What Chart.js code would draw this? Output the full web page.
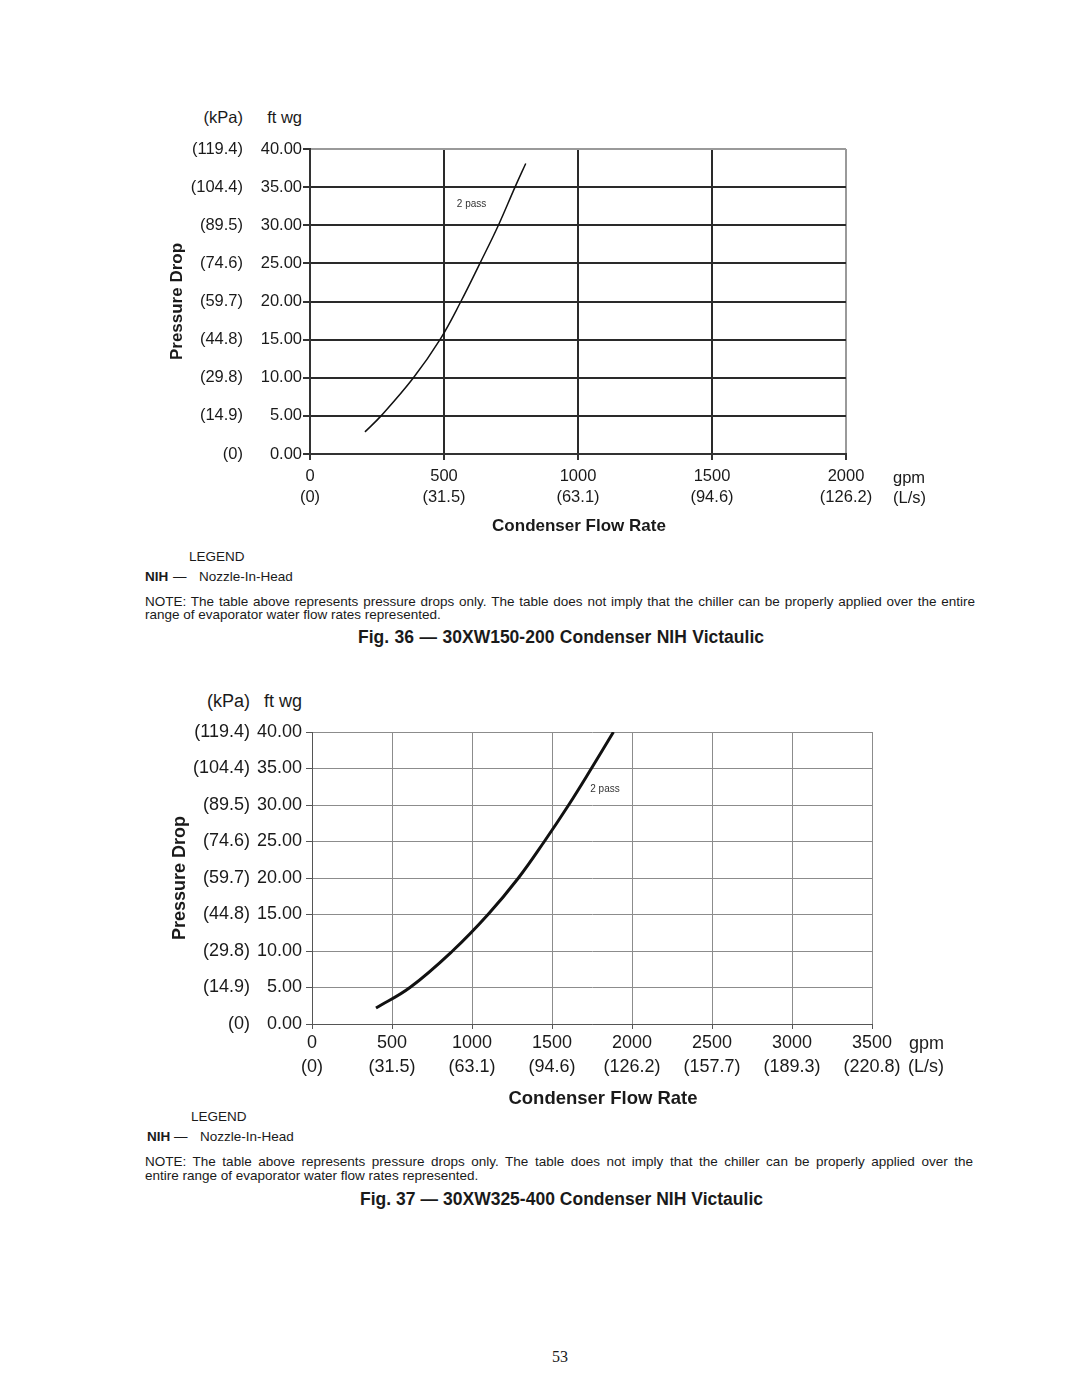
<!DOCTYPE html>
<html lang="en">
  <head>
    <meta charset="UTF-8" />
    <title>30XW Condenser NIH Victaulic</title>
    <style>
      body {
        margin: 0;
        background: #fff;
        font-family: "Liberation Sans", Arial, Helvetica, sans-serif;
        color: #1a1a1a;
      }
      .page {
        position: relative;
        width: 1080px;
        height: 1397px;
        overflow: hidden;
      }
      .page canvas {
        position: absolute;
        left: 0;
      }
      .t {
        position: absolute;
        white-space: nowrap;
        line-height: 20px;
      }
      .c {
        transform: translateX(-50%);
      }
      .b {
        font-weight: bold;
      }
      .s1 { font-size: 16.5px; }
      .s2 { font-size: 18px; }
      .small { font-size: 13.5px; }
      .pg {
        font-family: "Liberation Serif", "DejaVu Serif", serif;
        font-size: 16px;
      }
    </style>
  </head>
  <body>
    <div class="page">
      <!-- Fig. 36 -->
      <div class="t s1" style="right: 837px; top: 107px">(kPa)</div>
      <div class="t s1" style="right: 778px; top: 107px">ft wg</div>
      <canvas id="fig36" width="1080" height="450" style="top: 90px"></canvas>
      <div class="t s1" style="left: 893px; top: 467px">gpm</div>
      <div class="t s1" style="left: 893px; top: 487px">(L/s)</div>
      <div class="t b c" style="left: 579px; top: 516px; font-size: 17px">Condenser Flow Rate</div>
      <div class="t small" style="left: 189px; top: 547px">LEGEND</div>
      <div class="t small b" style="left: 145px; top: 567px">NIH</div>
      <div class="t small" style="left: 173px; top: 567px">—</div>
      <div class="t small" style="left: 199px; top: 567px">Nozzle-In-Head</div>
      <div class="t small" data-fit="830" style="left: 145px; top: 592px">NOTE: The table above represents pressure drops only. The table does not imply that the chiller can be properly applied over the entire</div>
      <div class="t small" style="left: 145px; top: 605px">range of evaporator water flow rates represented.</div>
      <div class="t b" data-fit="406" style="left: 358px; top: 627px; font-size: 17.5px">Fig. 36 — 30XW150-200 Condenser NIH Victaulic</div>

      <!-- Fig. 37 -->
      <div class="t s2" style="right: 830px; top: 691px">(kPa)</div>
      <div class="t s2" style="right: 778px; top: 691px">ft wg</div>
      <canvas id="fig37" width="1080" height="420" style="top: 680px"></canvas>
      <div class="t s2" style="right: 136px; top: 1033px">gpm</div>
      <div class="t s2" style="right: 136px; top: 1056px">(L/s)</div>
      <div class="t b c" style="left: 603px; top: 1088px; font-size: 18.5px">Condenser Flow Rate</div>
      <div class="t small" style="left: 191px; top: 1107px">LEGEND</div>
      <div class="t small b" style="left: 147px; top: 1127px">NIH</div>
      <div class="t small" style="left: 174px; top: 1127px">—</div>
      <div class="t small" style="left: 200px; top: 1127px">Nozzle-In-Head</div>
      <div class="t small" data-fit="828" style="left: 145px; top: 1152px">NOTE: The table above represents pressure drops only. The table does not imply that the chiller can be properly applied over the</div>
      <div class="t small" style="left: 145px; top: 1166px">entire range of evaporator water flow rates represented.</div>
      <div class="t b" data-fit="403" style="left: 360px; top: 1189px; font-size: 17.5px">Fig. 37 — 30XW325-400 Condenser NIH Victaulic</div>

      <div class="t pg c" style="left: 560px; top: 1347px">53</div>
    </div>

    <script src="https://cdn.jsdelivr.net/npm/chart.js"></script>
    <script>
      // pressure drop axis (ft wg) and its kPa equivalents
      const ftTicks = [0, 5, 10, 15, 20, 25, 30, 35, 40];
      const kpaLabels = ["(0)", "(14.9)", "(29.8)", "(44.8)", "(59.7)", "(74.6)", "(89.5)", "(104.4)", "(119.4)"];

      // flow axes (gpm) and L/s equivalents
      const fig36Gpm = [0, 500, 1000, 1500, 2000];
      const fig36Lps = ["(0)", "(31.5)", "(63.1)", "(94.6)", "(126.2)"];
      const fig37Gpm = [0, 500, 1000, 1500, 2000, 2500, 3000, 3500];
      const fig37Lps = ["(0)", "(31.5)", "(63.1)", "(94.6)", "(126.2)", "(157.7)", "(189.3)", "(220.8)"];

      // 2 pass curves
      const fig36Flow = [205, 265, 386, 485, 563, 634, 703, 765, 805];
      const fig36Drop = [2.9, 5, 10, 15, 20, 25, 30, 35, 38.1];
      const fig37Flow = [400, 612, 878, 1100, 1290, 1452, 1604, 1746, 1884];
      const fig37Drop = [2.2, 5, 10, 15, 20, 25, 30, 35, 40];

      const fig36Label = { text: "2 pass", flow: 603, drop: 32.8 };
      const fig37Label = { text: "2 pass", flow: 1831, drop: 32.2 };

      Chart.defaults.font.family = '"Liberation Sans", Arial, Helvetica, sans-serif';
      Chart.defaults.color = "#1a1a1a";

      const passLabel = {
        id: "passLabel",
        afterDatasetsDraw(chart, args, opts) {
          const { ctx, scales } = chart;
          ctx.save();
          ctx.font = '10px "Liberation Sans", Arial, sans-serif';
          ctx.fillStyle = "#333";
          ctx.textAlign = "center";
          ctx.textBaseline = "middle";
          ctx.fillText(opts.text, scales.x.getPixelForValue(opts.flow), scales.y.getPixelForValue(opts.drop));
          ctx.restore();
        },
      };

      function makeChart(id, s) {
        const edge = (max) => (ctx) => (ctx.tick && ctx.tick.value === max ? s.edgeColor : s.gridColor);
        return new Chart(document.getElementById(id), {
          type: "scatter",
          data: {
            datasets: [
              {
                data: s.flow.map((f, i) => ({ x: f, y: s.drop[i] })),
                showLine: true,
                borderColor: "#111",
                borderWidth: s.lineWidth,
                pointRadius: 0,
                tension: 0.4,
              },
            ],
          },
          options: {
            responsive: false,
            animation: false,
            devicePixelRatio: 1,
            layout: { padding: s.padding },
            plugins: {
              legend: { display: false },
              tooltip: { enabled: false },
              passLabel: s.label,
            },
            scales: {
              x: {
                type: "linear",
                min: 0,
                max: s.gpm[s.gpm.length - 1],
                afterBuildTicks: (a) => { a.ticks = s.gpm.map((v) => ({ value: v })); },
                afterFit: (a) => { a.height = 70; },
                grid: { color: edge(s.gpm[s.gpm.length - 1]), lineWidth: s.gridWidth, tickLength: s.xTick, tickColor: s.axisColor },
                border: { color: s.axisColor, width: s.gridWidth },
                ticks: {
                  padding: s.xPad,
                  maxRotation: 0,
                  autoSkip: false,
                  font: { size: s.font, lineHeight: s.xLine },
                  callback: (v, i) => [String(v), s.lps[i]],
                },
              },
              y: {
                position: "left",
                weight: 0,
                min: 0,
                max: 40,
                afterBuildTicks: (a) => { a.ticks = ftTicks.map((v) => ({ value: v })); },
                afterFit: (a) => { a.width = s.ftWidth; },
                grid: { color: edge(40), lineWidth: s.gridWidth, tickLength: s.yTick, tickColor: s.axisColor },
                border: { color: s.axisColor, width: s.gridWidth },
                ticks: { padding: s.yPad, font: { size: s.font }, callback: (v) => v.toFixed(2) },
              },
              kpa: {
                position: "left",
                weight: 1,
                min: 0,
                max: 40,
                afterBuildTicks: (a) => { a.ticks = ftTicks.map((v) => ({ value: v })); },
                afterFit: (a) => { a.width = s.kpaWidth; },
                grid: { display: false, drawTicks: false },
                border: { display: false },
                ticks: { padding: 7, font: { size: s.font }, callback: (v, i) => kpaLabels[i] },
                title: {
                  display: true,
                  text: "Pressure Drop",
                  font: { size: s.titleSize, weight: "bold" },
                  padding: { top: s.titlePad, bottom: 0 },
                },
              },
            },
          },
          plugins: [passLabel],
        });
      }

      makeChart("fig36", {
        flow: fig36Flow, drop: fig36Drop, gpm: fig36Gpm, lps: fig36Lps, label: fig36Label,
        padding: { left: 150, right: 234, top: 59, bottom: 16 },
        lineWidth: 1.5, gridWidth: 2, gridColor: "#2a2a2a", edgeColor: "#9a9a9a", axisColor: "#333",
        font: 16.5, xLine: 1.27, xTick: 6, xPad: 6, yTick: 7, yPad: 1,
        ftWidth: 60, kpaWidth: 100, titleSize: 17, titlePad: 17,
      });

      makeChart("fig37", {
        flow: fig37Flow, drop: fig37Drop, gpm: fig37Gpm, lps: fig37Lps, label: fig37Label,
        padding: { left: 150, right: 208, top: 52, bottom: 6 },
        lineWidth: 3, gridWidth: 1, gridColor: "#8c8c8c", edgeColor: "#8c8c8c", axisColor: "#555",
        font: 18, xLine: 1.28, xTick: 5, xPad: 3, yTick: 6, yPad: 4,
        ftWidth: 55, kpaWidth: 107, titleSize: 18, titlePad: 19,
      });

      // squeeze or spread the long note / caption lines to the printed width
      document.querySelectorAll("[data-fit]").forEach((el) => {
        const target = +el.dataset.fit;
        const natural = el.getBoundingClientRect().width;
        if (natural > target) {
          el.style.transformOrigin = "left center";
          el.style.transform = "scaleX(" + target / natural + ")";
        } else {
          const spaces = (el.textContent.match(/ /g) || []).length;
          el.style.wordSpacing = (target - natural) / spaces + "px";
        }
      });
    </script>
  </body>
</html>
